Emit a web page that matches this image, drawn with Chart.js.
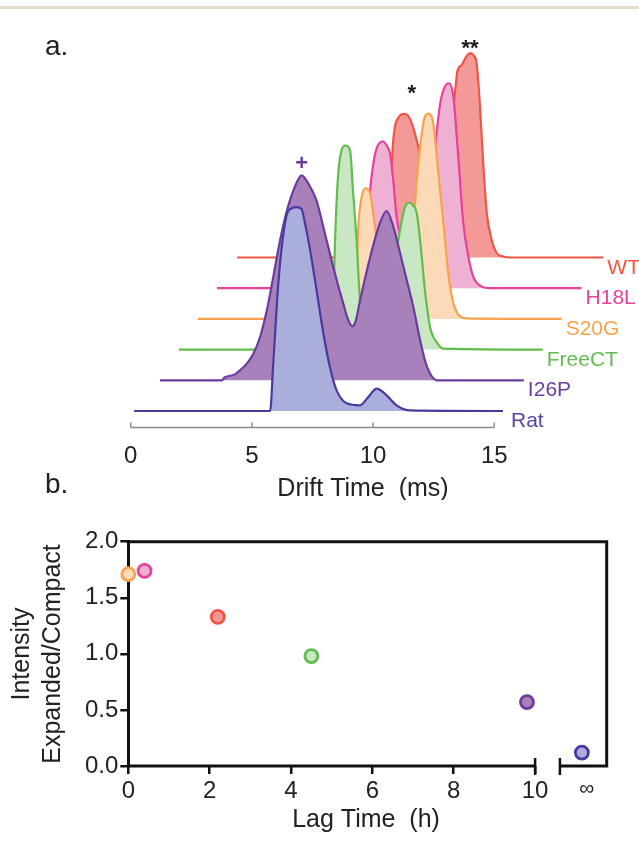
<!DOCTYPE html>
<html>
<head>
<meta charset="utf-8">
<script src="https://cdn.jsdelivr.net/npm/chart.js@4.4.0/dist/chart.umd.min.js"></script>
<style>
  html, body { margin: 0; padding: 0; background: #fff; }
  body { width: 639px; height: 841px; position: relative; overflow: hidden; }
  #topRule { position: absolute; left: 0; top: 6px; width: 639px; height: 3px; background: #e7ddcc; }
  #chartA { position: absolute; left: 0; top: 0; }
  #chartB { position: absolute; left: 0; top: 500px; }
</style>
</head>
<body>
<div id="topRule"></div>
<canvas id="chartA" width="639" height="500"></canvas>
<canvas id="chartB" width="639" height="341"></canvas>
<script>
// ---- panel a: drift time traces (time as plotted on the axis, signal above own baseline) ----
const seriesNames = ["Rat", "I26P", "FreeCT", "S20G", "H18L", "WT"];
const driftTicks = [0, 5, 10, 15];

const ratTime = [0.14, 5.75, 5.88, 6.09, 6.30, 6.50, 6.85, 7.05, 7.19, 7.40, 7.67, 7.95, 8.22, 8.50, 8.91, 9.46, 9.80, 10.15, 10.56, 10.97, 11.52, 15.36];
const ratSignal = [0, 0, 23, 62.6, 87, 98, 100, 99, 92, 79, 59, 38, 21.5, 10, 3.8, 2.8, 6.9, 11, 7.7, 2.8, 0.3, 0];

const i26pTime = [1.21, 3.75, 3.89, 4.30, 4.51, 4.79, 5.06, 5.33, 5.61, 5.88, 6.16, 6.44, 6.71, 7.05, 7.33, 7.67, 7.95, 8.22, 8.50, 8.77, 8.96, 9.15, 9.29, 9.46, 9.87, 10.28, 10.56, 10.83, 11.11, 11.39, 11.66, 11.94, 12.14, 12.35, 12.62, 16.22];
const i26pSignal = [0, 0, 1.5, 2.9, 4.9, 8.2, 13, 21, 34, 50.6, 68.6, 83, 93, 100.5, 96.4, 88, 75, 62, 49, 37.6, 30, 26.5, 29.4, 39, 60, 77, 83, 75.5, 62.5, 49, 36, 19.6, 9.8, 3.3, 0, 0];

const freeTime = [1.99, 8.10, 8.22, 8.36, 8.43, 8.56, 8.70, 8.86, 9.05, 9.17, 9.32, 9.46, 9.60, 10.08, 10.70, 11.04, 11.18, 11.32, 11.49, 11.65, 11.80, 11.94, 12.14, 12.35, 12.62, 12.90, 17.0];
const freeSignal = [0, 0, 4.5, 24, 53.6, 86, 97.7, 100, 97.7, 78, 53.6, 24, 15.3, 13, 24, 53.6, 63, 70, 72, 70.7, 67, 53.6, 29, 11, 3.7, 0.5, 0];

const s20gTime = [2.77, 9.00, 9.13, 9.29, 9.39, 9.53, 9.69, 9.87, 10.08, 10.28, 10.61, 11.03, 11.32, 11.45, 11.66, 11.80, 11.94, 12.10, 12.28, 12.48, 12.69, 12.90, 13.10, 13.31, 13.58, 13.86, 17.78];
const s20gSignal = [0, 0, 0.6, 14, 45, 60, 64, 61.7, 45, 26.6, 14, 14, 24, 34, 45, 68, 84.6, 97.7, 100.6, 96, 71.6, 47, 22.5, 7.8, 1.3, 0.3, 0];

const h18lTime = [3.56, 9.45, 9.54, 9.71, 9.80, 9.87, 10.01, 10.16, 10.40, 10.61, 10.70, 10.83, 10.97, 11.23, 11.85, 12.26, 12.55, 12.76, 12.93, 13.13, 13.31, 13.51, 13.72, 13.93, 14.13, 14.48, 14.82, 18.6];
const h18lSignal = [0, 0, 1, 19, 30, 46.6, 61, 69, 72, 69, 66, 53, 35, 23.7, 21, 31, 67.8, 90, 98, 100.5, 94, 65, 32, 15.5, 5.7, 0.8, 0, 0];

const wtTime = [4.39, 10.55, 10.61, 10.70, 10.78, 10.81, 10.90, 11.07, 11.25, 11.44, 11.59, 11.87, 12.06, 12.35, 12.76, 13.09, 13.30, 13.42, 13.47, 13.66, 13.84, 14.01, 14.16, 14.27, 14.41, 14.55, 14.69, 14.89, 15.10, 15.37, 15.65, 19.5];
const wtSignal = [0, 0, 3.8, 18.5, 46, 54, 64, 69, 70.4, 69.5, 66, 54, 43, 33, 30.7, 40.5, 72, 85.5, 91, 94.5, 98.4, 100.2, 98.9, 95.3, 74, 44.6, 21.8, 8.7, 2.2, 0.5, 0, 0];

// peak marks: text, drift time, height (same units as the stacked traces)
const markText = ["+", "*", "**"];
const markTime = [7.05, 11.6, 14.0];
const markLevel = [121.6, 158.8, 180.8];

// ---- panel b: expanded/compact ratio vs lag time ----
const lagTime = [0, 0.4, 2.2, 4.5, 9.8];
const infLag = 11.15;          // "no lag" point, drawn past the axis break
const expandedCompact = [1.71, 1.74, 1.33, 0.98, 0.57, 0.12];
const pointSeries = ["S20G", "H18L", "WT", "FreeCT", "I26P", "Rat"];
const lagTicks = [0, 2, 4, 6, 8, 10];
const infTick = 11.27;
const ratioTicks = [0, 0.5, 1, 1.5, 2];

const traces = {
  Rat: [ratTime, ratSignal],
  I26P: [i26pTime, i26pSignal],
  FreeCT: [freeTime, freeSignal],
  S20G: [s20gTime, s20gSignal],
  H18L: [h18lTime, h18lSignal],
  WT: [wtTime, wtSignal],
};
const colors = {
  Rat: { line: "#4a3aa0", fill: "#a9aeda", text: "#5447a8" },
  I26P: { line: "#6a3c9e", fill: "#a880ba", text: "#6a3c9e" },
  FreeCT: { line: "#62bc4e", fill: "#c9e7c2", text: "#62bc4e" },
  S20G: { line: "#f8a24f", fill: "#fddab7", text: "#f8a24f" },
  H18L: { line: "#e6429a", fill: "#eeb1d3", text: "#e6429a" },
  WT: { line: "#ef5646", fill: "#f39a98", text: "#ef5646" },
};
const fam = "'Liberation Sans', Arial, Helvetica, sans-serif";
const baselineStep = 15.05;

const datasetsA = seriesNames.map((name, i) => ({
  label: name,
  data: traces[name][0].map((t, k) => ({ x: t, y: traces[name][1][k] + i * baselineStep })),
  borderColor: colors[name].line,
  backgroundColor: colors[name].fill,
  borderWidth: 2.2,
  pointRadius: 0,
  cubicInterpolationMode: "monotone",
  fill: { value: i * baselineStep },
  clip: false,
}));

const panelAExtras = {
  id: "panelAExtras",
  afterDatasetsDraw(chart) {
    const { ctx, chartArea } = chart;
    const x = chart.scales.x, y = chart.scales.y;
    ctx.save();
    ctx.textBaseline = "alphabetic";
    // series names at the end of each trace
    ctx.font = "21px " + fam;
    ctx.textAlign = "left";
    chart.data.datasets.forEach((ds, i) => {
      const pts = chart.getDatasetMeta(i).data;
      const last = pts[pts.length - 1];
      ctx.fillStyle = colors[ds.label].text;
      ctx.fillText(ds.label, last.x + (i === 0 ? 8 : 4), last.y + 16);
    });
    // peak marks
    ctx.textAlign = "center";
    markText.forEach((t, k) => {
      ctx.font = "bold 22px " + fam;
      ctx.fillStyle = t === "+" ? colors.I26P.line : "#1a1a1a";
      const off = t === "+" ? 0.34 * 22 : 0.58 * 22;
      ctx.fillText(t, x.getPixelForValue(markTime[k]), y.getPixelForValue(markLevel[k]) + off);
    });
    // axis line with small upward ticks
    const yb = chartArea.bottom;
    ctx.strokeStyle = "#8c8c8c";
    ctx.lineWidth = 1.5;
    ctx.beginPath();
    ctx.moveTo(x.getPixelForValue(driftTicks[0]), yb);
    ctx.lineTo(x.getPixelForValue(driftTicks[driftTicks.length - 1]), yb);
    driftTicks.forEach(v => {
      const px = x.getPixelForValue(v);
      ctx.moveTo(px, yb);
      ctx.lineTo(px, yb - 5);
    });
    ctx.stroke();
    // axis title and panel letters
    ctx.fillStyle = "#222";
    ctx.font = "25px " + fam;
    ctx.fillText("Drift Time  (ms)", 363, 496);
    ctx.textAlign = "left";
    ctx.font = "28px " + fam;
    ctx.fillText("a.", 45, 55);
    ctx.fillText("b.", 45, 493);
    ctx.restore();
  },
};

new Chart(document.getElementById("chartA"), {
  type: "line",
  data: { datasets: datasetsA },
  options: {
    responsive: false,
    animation: false,
    layout: { padding: { left: 130.7, right: 0, top: 20, bottom: 0 } },
    plugins: { legend: { display: false }, tooltip: { enabled: false } },
    scales: {
      x: {
        type: "linear",
        min: 0,
        max: 20.97,
        afterBuildTicks: s => { s.ticks = driftTicks.map(v => ({ value: v })); },
        afterFit: s => { s.height = 72.5; },
        grid: { display: false, drawTicks: false },
        border: { display: false },
        ticks: { padding: 14, color: "#222", font: { family: fam, size: 24 } },
      },
      y: { display: false, min: -8.09, max: 191.7 },
    },
  },
  plugins: [panelAExtras],
});

// ---- panel b ----
const panelBFrame = {
  id: "panelBFrame",
  beforeDatasetsDraw(chart) {
    const { ctx, chartArea: a } = chart;
    const x = chart.scales.x;
    const brk0 = x.getPixelForValue(lagTicks[lagTicks.length - 1]);
    const brk1 = x.getPixelForValue(10.61);
    ctx.save();
    ctx.strokeStyle = "#111";
    ctx.lineWidth = 3;
    ctx.beginPath();
    ctx.moveTo(a.left - 1.5, a.top);
    ctx.lineTo(a.right, a.top);
    ctx.lineTo(a.right, a.bottom);
    ctx.lineTo(brk1, a.bottom);
    ctx.moveTo(a.left, a.bottom);
    ctx.lineTo(brk0, a.bottom);
    ctx.stroke();
    ctx.lineWidth = 2.5;
    [brk0, brk1].forEach(px => {
      ctx.beginPath();
      ctx.moveTo(px, a.bottom - 8);
      ctx.lineTo(px, a.bottom + 9);
      ctx.stroke();
    });
    // axis titles
    ctx.fillStyle = "#222";
    ctx.font = "25px " + fam;
    ctx.textAlign = "center";
    ctx.textBaseline = "alphabetic";
    ctx.fillText("Lag Time  (h)", 366, 327);
    ctx.textBaseline = "middle";
    ctx.translate(22, 154);
    ctx.rotate(-Math.PI / 2);
    ctx.fillText("Intensity", 0, 0);
    ctx.fillText("Expanded/Compact", 0, 31);
    ctx.restore();
  },
};

new Chart(document.getElementById("chartB"), {
  type: "scatter",
  data: {
    datasets: [{
      data: expandedCompact.map((v, k) => ({ x: k < lagTime.length ? lagTime[k] : infLag, y: v })),
      pointRadius: 6.5,
      pointBorderWidth: 2.8,
      pointBackgroundColor: pointSeries.map(n => colors[n].fill),
      pointBorderColor: pointSeries.map(n => colors[n].line),
      clip: false,
    }],
  },
  options: {
    responsive: false,
    animation: false,
    layout: { padding: { left: 0, right: 32.3, top: 41.7, bottom: 0 } },
    plugins: { legend: { display: false }, tooltip: { enabled: false } },
    scales: {
      x: {
        type: "linear",
        min: 0,
        max: 11.76,
        afterBuildTicks: s => { s.ticks = lagTicks.concat([infTick]).map(v => ({ value: v })); },
        afterFit: s => { s.height = 75; },
        border: { display: false },
        grid: {
          drawOnChartArea: false,
          tickLength: 8,
          lineWidth: 2.5,
          color: c => (c.tick && c.tick.value === infTick ? "rgba(0,0,0,0)" : "#111"),
        },
        ticks: {
          padding: 3,
          color: "#222",
          font: c => ({ family: fam, size: c.tick && c.tick.value === infTick ? 21 : 24 }),
          callback: v => (v === infTick ? "∞" : v),
        },
      },
      y: {
        min: 0,
        max: 2,
        afterBuildTicks: s => { s.ticks = ratioTicks.map(v => ({ value: v })); },
        afterFit: s => { s.width = 128.3; },
        border: { display: true, color: "#111", width: 3 },
        grid: { drawOnChartArea: false, tickLength: 8, lineWidth: 2.5, color: "#111" },
        ticks: { padding: 2, color: "#222", font: { family: fam, size: 24 }, callback: v => v.toFixed(1) },
      },
    },
  },
  plugins: [panelBFrame],
});
</script>
</body>
</html>
